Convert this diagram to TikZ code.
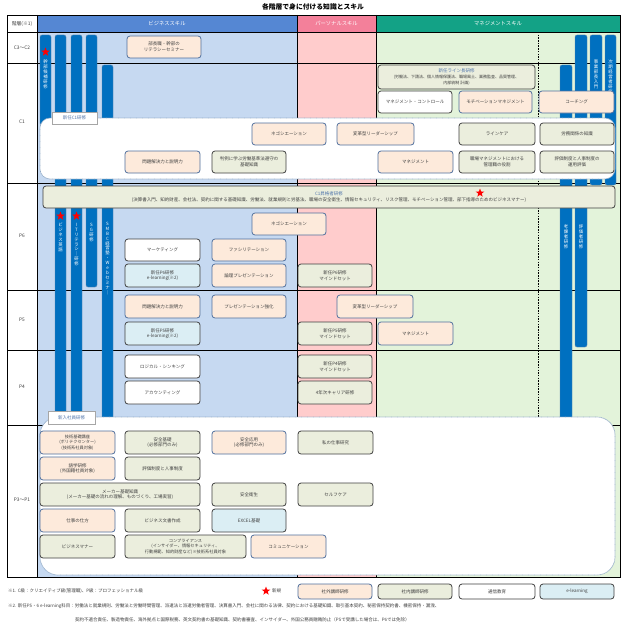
\documentclass[tikz,border=0pt]{standalone}
\usepackage{fontspec}
\setmainfont{Noto Sans CJK JP}
\usetikzlibrary{shapes.geometric}
\definecolor{hblue}{HTML}{5587D3}
\definecolor{hpink}{HTML}{F3809A}
\definecolor{hteal}{HTML}{13A286}
\definecolor{bgblue}{HTML}{C6D9F1}
\definecolor{bgpink}{HTML}{FFCCCC}
\definecolor{bggreen}{HTML}{E3F3DA}
\definecolor{barblue}{HTML}{0070C0}
\definecolor{bardraw}{HTML}{5E86B0}
\definecolor{extfill}{HTML}{FDEADB}
\definecolor{extdraw}{HTML}{50709E}
\definecolor{intfill}{HTML}{EBEEDD}
\definecolor{intdraw}{HTML}{404040}
\definecolor{elfill}{HTML}{DBEEF4}
\definecolor{txt}{HTML}{404040}
\definecolor{regdraw}{HTML}{8FA9C6}
\definecolor{tabtxt}{HTML}{4F74AA}
\tikzset{
 boxbase/.style={rounded corners=3pt, line width=0.8pt, align=center, inner sep=0.5pt,
   font=\fontsize{4.5}{5.6}\selectfont, text=txt},
 ext/.style={boxbase, fill=extfill, draw=extdraw},
 int/.style={boxbase, fill=intfill, draw=intdraw},
 selfstudy/.style={boxbase, fill=white, draw=intdraw},
 elearn/.style={boxbase, fill=elfill, draw=intdraw},
 bluebar/.style={fill=barblue, draw=bardraw, line width=0.4pt, rounded corners=2pt},
 whitereg/.style={fill=white, draw=regdraw, line width=0.7pt, dash pattern=on 0.7pt off 0.5pt},
 regtab/.style={fill=white, draw=black!35, line width=0.5pt, text=tabtxt, inner sep=0pt,
   font=\fontsize{4.5}{5}\selectfont},
 vtext/.style={text=white, font=\fontsize{4.4}{4.9}\selectfont, align=center, inner sep=0pt, anchor=north},
 hdr/.style={text=white, font=\fontsize{5.3}{6}\selectfont},
 rowlab/.style={text=txt, font=\fontsize{4.8}{6}\selectfont},
 note/.style={text=txt, font=\fontsize{4.5}{5.5}\selectfont, anchor=west, inner sep=0pt},
 redstar/.style={star, star points=5, star point ratio=2.4, fill=red, draw=none, minimum size=9pt, inner sep=0pt},
 grid/.style={line width=0.8pt, draw=black},
}
\newcommand\bx[7]{\node[#2, minimum width={#5pt-#3pt}, minimum height={#6pt-#4pt}] (#1) at ({(#3+#5)/2},{(#4+#6)/2}) {#7};}
\begin{document}
\begin{tikzpicture}[x=1pt,y=-1pt]
\useasboundingbox (0,0) rectangle (623,626);
\fill[white] (0,0) rectangle (623,626);
% title
\node[font=\fontsize{6.8}{8}\selectfont\bfseries, text=black] (title) at (313,7) {各階層で身に付ける知識とスキル};
% backgrounds
\fill[hblue] (37,15) rectangle (297,32);
\fill[hpink] (297,15) rectangle (376,32);
\fill[hteal] (376,15) rectangle (620,32);
\fill[bgblue] (37,32) rectangle (297,577);
\fill[bgpink] (297,32) rectangle (376,577);
\fill[bggreen] (376,32) rectangle (620,577);
% grid
\draw[grid] (7,15) rectangle (620,577);
\foreach \xx in {37,297,376} \draw[grid] (\xx,15) -- (\xx,577);
\foreach \yy in {32,63,183,290,350,425} \draw[grid] (7,\yy) -- (620,\yy);
\draw[line width=0.8pt, dash pattern=on 1.5pt off 1.2pt] (538,32) -- (538,417);
% headers
\node[rowlab] (hlevel) at (22,23.5) {階層(※1)};
\node[hdr] (hbiz) at (167,23.5) {ビジネススキル};
\node[hdr] (hper) at (336.5,23.5) {パーソナルスキル};
\node[hdr] (hmgt) at (498,23.5) {マネジメントスキル};
% row labels
\node[rowlab] (rc3) at (22,47.5) {C3～C2};
\node[rowlab] (rc1) at (22,122) {C1};
\node[rowlab] (rp6) at (22,236) {P6};
\node[rowlab] (rp5) at (22,320) {P5};
\node[rowlab] (rp4) at (22,387) {P4};
\node[rowlab] (rp3) at (22,500) {P3～P1};
% blue bars
\draw[bluebar] (40,35) rectangle (51,125);
\draw[bluebar] (55,35) rectangle (66,574);
\draw[bluebar] (71,35) rectangle (82,574);
\draw[bluebar] (86,35) rectangle (97,287);
\draw[bluebar] (102,65) rectangle (113,574);
\draw[bluebar] (560,65) rectangle (572,420);
\draw[bluebar] (575,35) rectangle (587,347);
\draw[bluebar] (590,35) rectangle (602,185);
\draw[bluebar] (605,35) rectangle (616,185);
% bar texts
\node[vtext] (vt1) at (45.5,60) {幹\\部\\候\\補\\研\\修};
\node[vtext] (vt2) at (60.5,223) {ビ\\ジ\\ネ\\ス\\英\\語};
\node[vtext] (vt3) at (76.5,223) {I\\T\\リ\\テ\\ラ\\シ\\｜\\研\\修};
\node[vtext] (vt4) at (91.5,223) {S\\G\\研\\修};
\node[vtext] (vt5) at (107.5,222) {S\\M\\B\\C\\経\\営\\塾\\・\\W\\e\\b\\セ\\ミ\\ナ\\｜};
\node[vtext] (vt6) at (566,225) {考\\課\\者\\研\\修};
\node[vtext] (vt7) at (581,225) {評\\価\\者\\研\\修};
\node[vtext] (vt8) at (596,60) {事\\業\\部\\長\\入\\門};
\node[vtext] (vt9) at (610.5,60) {次\\期\\経\\営\\者\\研\\修};
% stars on bars
\node[redstar] (s1) at (45.5,52) {};
\node[redstar] (s2) at (60.5,216) {};
\node[redstar] (s3) at (76.5,216) {};
% white regions
\draw[whitereg, rounded corners=10pt] (40,118) rectangle (615,179);
\draw[whitereg, rounded corners=18pt] (40,417) rectangle (615,575);
\bx{tabc1}{regtab}{52}{112}{97}{124}{新任C1研修}
\bx{tabnew}{regtab}{48}{411}{95}{424}{新入社員研修}
% C3-C2
\bx{b01}{ext}{127}{36}{201}{58}{部長職・幹部の\\リテラシーセミナー}
% C1 upper
\bx{b02}{int}{378}{65}{535}{89}{{\color{tabtxt}新任ライン長研修}\\{\fontsize{4}{5}\selectfont (労働法、下請法、個人情報保護法、職場風土、業務監査、品質管理、}\\{\fontsize{4}{5}\selectfont 内部統制 計画)}}
\bx{b03}{selfstudy}{378}{91}{452}{113}{マネジメント・コントロール}
\bx{b04}{ext}{459}{91}{532}{113}{モチベーションマネジメント}
\bx{b05}{ext}{539}{91}{614}{113}{コーチング}
% C1 region
\bx{b06}{ext}{252}{123}{326}{145}{ネゴシエーション}
\bx{b07}{ext}{337}{123}{414}{145}{変革型リーダーシップ}
\bx{b08}{int}{459}{123}{535}{145}{ラインケア}
\bx{b09}{int}{540}{123}{614}{145}{労務関係の知識}
\bx{b10}{ext}{125}{151}{200}{173}{問題解決力と説明力}
\bx{b11}{int}{212}{151}{286}{173}{判例に学ぶ労働基準法遵守の\\基礎知識}
\bx{b12}{ext}{378}{151}{453}{173}{マネジメント}
\bx{b13}{int}{459}{151}{535}{173}{職場マネジメントにおける\\管理職の役割}
\bx{b14}{int}{540}{151}{614}{173}{評価制度と人事制度の\\運用評価}
% C1 promotion
\bx{b15}{int}{43}{186}{615}{208}{{\color{tabtxt}C1昇格者研修}\\(決算書入門、知的財産、会社法、契約に関する基礎知識、労働法、就業規則と労基法、職場の安全衛生、情報セキュリティ、リスク管理、モチベーション管理、部下指導のためのビジネスマナー)}
\node[redstar] (s4) at (480,193) {};
% P6
\bx{b16}{ext}{252}{213}{326}{235}{ネゴシエーション}
\bx{b17}{selfstudy}{125}{239}{200}{261}{マーケティング}
\bx{b18}{ext}{212}{239}{286}{261}{ファシリテーション}
\bx{b19}{elearn}{125}{264}{200}{287}{新任P6研修\\e-learning(※2)}
\bx{b20}{ext}{212}{264}{286}{287}{論理プレゼンテーション}
\bx{b21}{int}{298}{264}{372}{287}{新任P6研修\\マインドセット}
% P5
\bx{b22}{ext}{125}{295}{200}{318}{問題解決力と説明力}
\bx{b23}{ext}{212}{295}{286}{318}{プレゼンテーション強化}
\bx{b24}{ext}{337}{295}{413}{318}{変革型リーダーシップ}
\bx{b25}{elearn}{125}{322}{200}{345}{新任P5研修\\e-learning(※2)}
\bx{b26}{int}{298}{322}{372}{345}{新任P5研修\\マインドセット}
\bx{b27}{ext}{378}{322}{453}{345}{マネジメント}
% P4
\bx{b28}{selfstudy}{125}{355}{200}{378}{ロジカル・シンキング}
\bx{b29}{selfstudy}{125}{381}{200}{404}{アカウンティング}
\bx{b30}{int}{298}{355}{372}{378}{新任P4研修\\マインドセット}
\bx{b31}{int}{298}{381}{372}{404}{4年次キャリア研修}
% P3-P1
\bx{b32}{ext}{40}{431}{115}{454}{{\fontsize{4.2}{5}\selectfont 技術基礎講座}\\{\fontsize{4.2}{5}\selectfont (ポリテクセンター)}\\{\fontsize{4.2}{5}\selectfont (技術系社員対象)}}
\bx{b33}{int}{125}{431}{200}{454}{安全基礎\\(必修部門のみ)}
\bx{b34}{ext}{212}{431}{286}{454}{安全応用\\(必修部門のみ)}
\bx{b35}{int}{298}{431}{373}{454}{私の仕事研究}
\bx{b36}{ext}{40}{457}{115}{480}{語学研修\\(外国籍社員対象)}
\bx{b37}{int}{125}{457}{200}{480}{評価制度と人事制度}
\bx{b38}{int}{40}{483}{200}{506}{メーカー基礎知識\\(メーカー基礎の流れの理解、ものづくり、工場実習)}
\bx{b39}{int}{212}{483}{286}{506}{安全衛生}
\bx{b40}{int}{298}{483}{373}{506}{セルフケア}
\bx{b41}{ext}{40}{509}{115}{532}{仕事の仕方}
\bx{b42}{int}{125}{509}{200}{532}{ビジネス文書作成}
\bx{b43}{elearn}{212}{509}{286}{532}{EXCEL基礎}
\bx{b44}{int}{40}{535}{115}{558}{ビジネスマナー}
\bx{b45}{int}{125}{535}{246}{558}{{\fontsize{4.2}{5}\selectfont コンプライアンス}\\{\fontsize{4.2}{5}\selectfont (インサイダー、情報セキュリティ、}\\{\fontsize{4.2}{5}\selectfont 行動規範、知的財産など)※技術系社員対象}}
\bx{b46}{ext}{251}{535}{326}{558}{コミュニケーション}
% legend
\node[note] (n1) at (8,591) {※1. C級：クリエイティブ級(管理職)、P級：プロフェッショナル級};
\node[redstar] (s5) at (266,591) {};
\node[note] (newlab) at (272,591) {新規};
\bx{l1}{ext}{298}{584}{372}{599}{社外講師研修}
\bx{l2}{int}{378}{584}{452}{599}{社内講師研修}
\bx{l3}{selfstudy}{459}{584}{535}{599}{通信教育}
\bx{l4}{elearn}{540}{584}{614}{599}{e-learning}
\node[note] (n2) at (8,606) {※2. 新任P5・6 e-learning科目：労働法と就業規則、労働法と労働時間管理、派遣法と派遣労働者管理、決算書入門、会社に関わる法律、契約における基礎知識、取引基本契約、秘密保持契約書、機密保持・漏洩、};
\node[note] (n3) at (75,620) {契約不適合責任、製造物責任、海外拠点と国際税務、英文契約書の基礎知識、契約書審査、インサイダー、外国公務員贈賄防止（P5で受講した場合は、P6では免除）};
\end{tikzpicture}
\end{document}
